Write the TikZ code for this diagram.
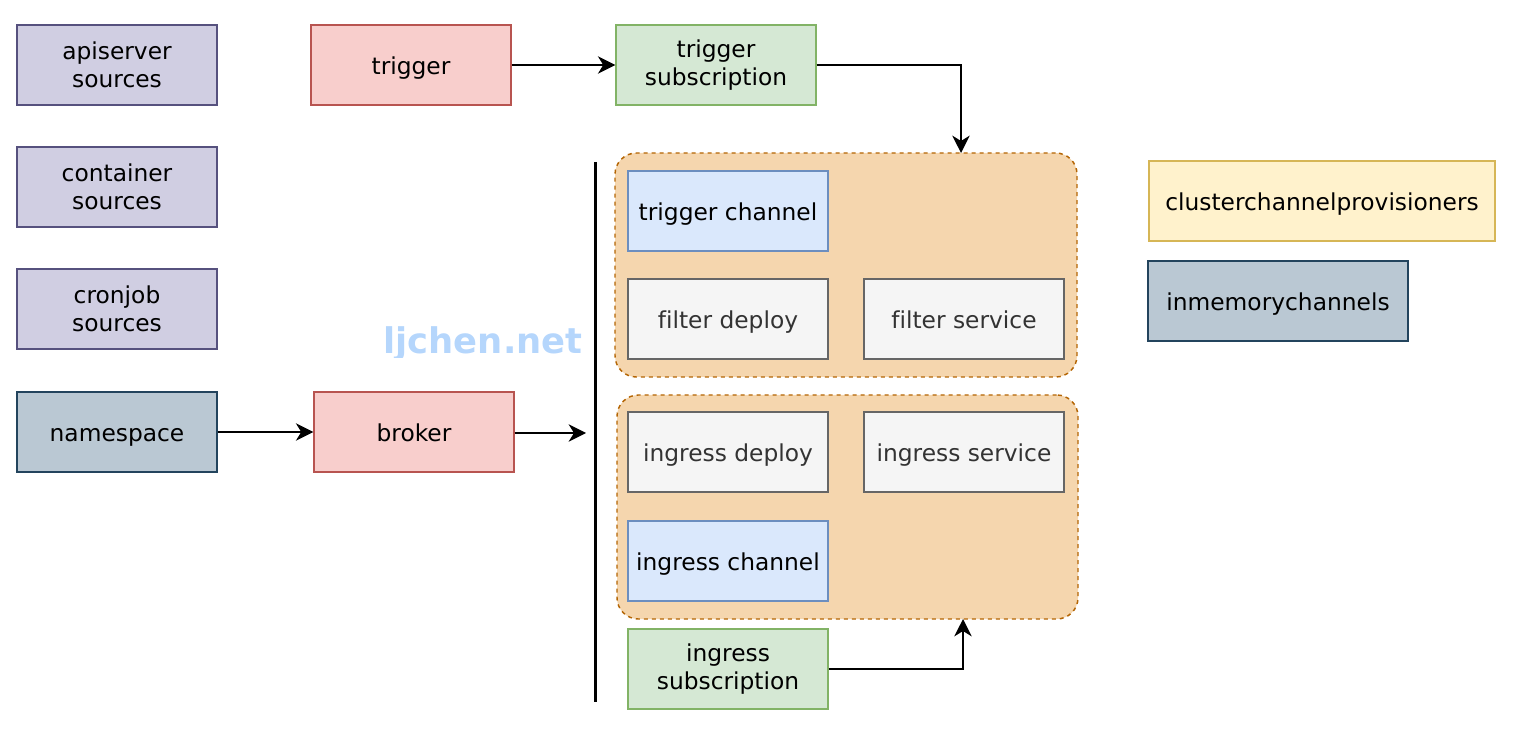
\documentclass[tikz,border=0pt]{standalone}
\usepackage{fontspec}
\setmainfont[Ligatures={NoCommon}]{DejaVu Sans}
\usetikzlibrary{arrows.meta}
\definecolor{pfill}{HTML}{D0CEE2}\definecolor{pdraw}{HTML}{56517E}
\definecolor{rfill}{HTML}{F8CECC}\definecolor{rdraw}{HTML}{B85450}
\definecolor{gfill}{HTML}{D5E8D4}\definecolor{gdraw}{HTML}{82B366}
\definecolor{bfill}{HTML}{DAE8FC}\definecolor{bdraw}{HTML}{6C8EBF}
\definecolor{kfill}{HTML}{F5F5F5}\definecolor{kdraw}{HTML}{666666}\definecolor{ktext}{HTML}{333333}
\definecolor{yfill}{HTML}{FFF2CC}\definecolor{ydraw}{HTML}{D6B656}
\definecolor{sfill}{HTML}{BAC8D3}\definecolor{sdraw}{HTML}{23445D}
\definecolor{ofill}{HTML}{F5D6AE}\definecolor{odraw}{HTML}{B46504}
\definecolor{wmark}{HTML}{B5D6FC}
\tikzset{
  x=0.75pt, y=-0.75pt,
  box/.style={rectangle, draw, line width=1.1pt, minimum width=150pt, minimum height=60pt,
    inner sep=0pt, font=\fontsize{17.5}{21}\selectfont},
  one/.style={text height=18pt, text depth=4pt},
  two/.style={align=center},
  purple/.style={box, fill=pfill, draw=pdraw},
  redb/.style={box, fill=rfill, draw=rdraw},
  greenb/.style={box, fill=gfill, draw=gdraw},
  blueb/.style={box, fill=bfill, draw=bdraw},
  grayb/.style={box, fill=kfill, draw=kdraw, text=ktext},
  yellowb/.style={box, fill=yfill, draw=ydraw},
  slateb/.style={box, fill=sfill, draw=sdraw},
  group/.style={rectangle, draw=odraw, fill=ofill, line width=1.1pt, dash pattern=on 3pt off 3pt,
    rounded corners=16pt, inner sep=0pt},
  arr/.style={-{Stealth[length=13pt,width=13pt,inset=4pt]}, line width=1.5pt, black},
}
\begin{document}
\begin{tikzpicture}
\useasboundingbox (0,0) rectangle (1516,730);
% groups
\node[group, minimum width=346.5pt, minimum height=168pt] (g1) at (846,265) {};
\node[group, minimum width=345.75pt, minimum height=168pt] (g2) at (847.5,507) {};
% left column
\node[purple, two] (api) at (117,65) {apiserver\\sources};
\node[purple, two] (cont) at (117,187) {container\\sources};
\node[purple, two] (cron) at (117,309) {cronjob\\sources};
\node[slateb, one] (ns) at (117,432) {namespace};
\node[redb, one] (trig) at (411,65) {trigger};
\node[redb, one] (broker) at (414,432) {broker};
\node[greenb, two] (tsub) at (716,65) {trigger\\subscription};
% group contents
\node[blueb, one] (tch) at (728,211) {trigger channel};
\node[grayb, one] (fdep) at (728,319) {filter deploy};
\node[grayb, one] (fsvc) at (964,319) {filter service};
\node[grayb, one] (idep) at (728,452) {ingress deploy};
\node[grayb, one] (isvc) at (964,452) {ingress service};
\node[blueb, one] (ich) at (728,561) {ingress channel};
\node[greenb, two] (isub) at (728,669) {ingress\\subscription};
% right
\node[yellowb, one, minimum width=259.5pt] (ccp) at (1322,201) {clusterchannelprovisioners};
\node[slateb, one, minimum width=195pt] (imc) at (1278,301) {inmemorychannels};
% watermark (clipped at its bottom like the reference)
\begin{scope}
\clip (370,300) rectangle (600,358);
\node[text=wmark, font=\bfseries\fontsize{26.5}{32}\selectfont, inner sep=0pt, anchor=base] (wm) at (483,354) {ljchen.net};
\end{scope}
% bar
\coordinate (bartop) at (595,162);
\coordinate (barbot) at (595,702);
\draw[line width=2.25pt] (bartop) -- (barbot);
% connectors
\coordinate (g1in) at (961,153);
\coordinate (g2in) at (963,619);
\coordinate (bend) at (586,433);
\draw[arr] (trig.east) -- (tsub.west);
\draw[arr] (tsub.east) -| (g1in);
\draw[arr] (ns.east) -- (broker.west);
\draw[arr] (broker.east |- bend) -- (bend);
\draw[arr] (isub.east) -| (g2in);
\end{tikzpicture}
\end{document}
